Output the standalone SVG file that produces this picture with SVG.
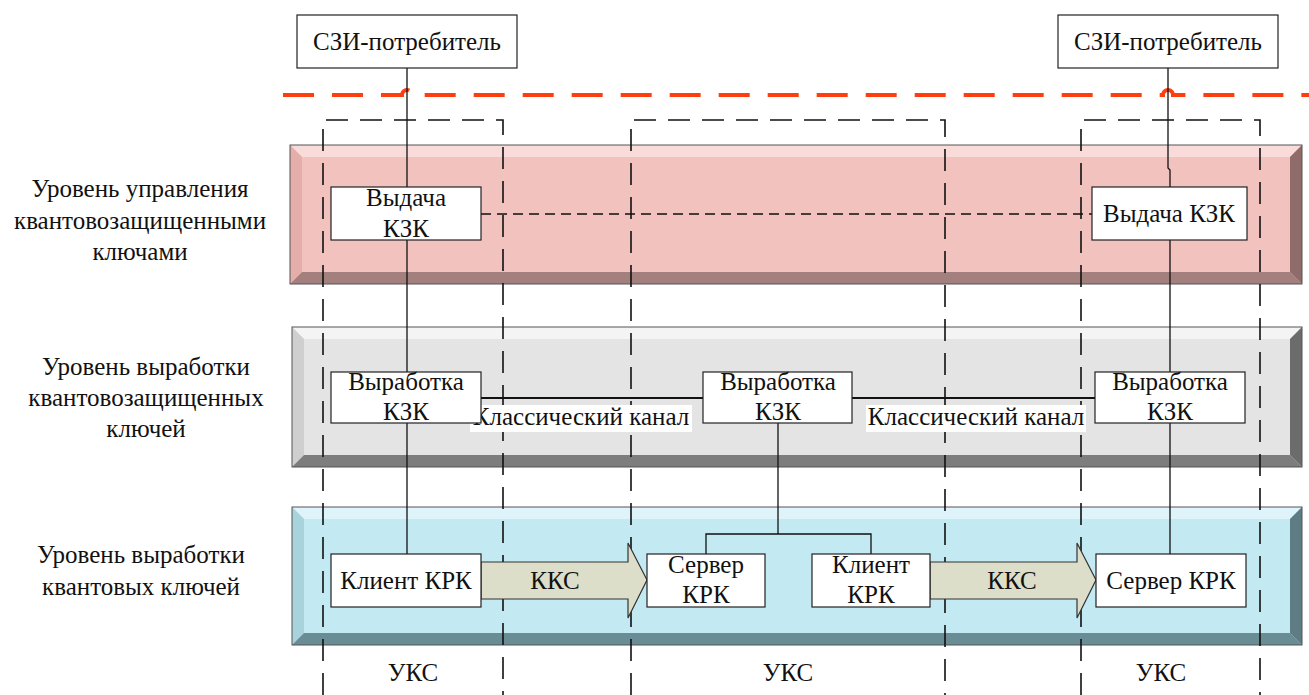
<svg xmlns="http://www.w3.org/2000/svg" width="1309" height="695" viewBox="0 0 1309 695" font-family="'Liberation Serif', 'Times New Roman', 'DejaVu Serif', serif">
<style>
text{font-family:'Liberation Serif','Times New Roman','DejaVu Serif',serif;font-size:25px;fill:#111;text-anchor:middle}
.box{fill:#fff;stroke:#222;stroke-width:1.2}
.ln{fill:none;stroke:#111;stroke-width:1.3}
.thick{fill:none;stroke:#111;stroke-width:2.2}
.uks{fill:none;stroke:#111;stroke-width:1.6;stroke-dasharray:22 12}
.arr{fill:#dcdec9;stroke:#333;stroke-width:1.2}
.edge{fill:none;stroke:#555;stroke-width:1}
</style>
<rect width="1309" height="695" fill="#fff"/>
<g id="band-kzk-mgmt">
<rect x="290" y="145" width="1012" height="139" fill="#f2c2bf"/>
<polygon points="290,145 1302,145 1290,157 302,157" fill="#f9dcda"/>
<polygon points="290,145 302,157 302,272 290,284" fill="#e4aeab"/>
<polygon points="290,284 302,272 1290,272 1302,284" fill="#a3807e"/>
<polygon points="1302,145 1302,284 1290,272 1290,157" fill="#8f6b69"/>
<rect x="290" y="145" width="1012" height="139" class="edge"/>
</g>
<g id="band-kzk-gen">
<rect x="292" y="327" width="1010" height="140" fill="#e4e4e4"/>
<polygon points="292,327 1302,327 1290,339 304,339" fill="#f4f4f4"/>
<polygon points="292,327 304,339 304,455 292,467" fill="#cfcfcf"/>
<polygon points="292,467 304,455 1290,455 1302,467" fill="#7d7d7d"/>
<polygon points="1302,327 1302,467 1290,455 1290,339" fill="#6c6c6c"/>
<rect x="292" y="327" width="1010" height="140" class="edge"/>
</g>
<g id="band-qk-gen">
<rect x="292" y="507" width="1010" height="138" fill="#c3e9f3"/>
<polygon points="292,507 1302,507 1290,519 304,519" fill="#def4fa"/>
<polygon points="292,507 304,519 304,633 292,645" fill="#a8d2dc"/>
<polygon points="292,645 304,633 1290,633 1302,645" fill="#6a8c95"/>
<polygon points="1302,507 1302,645 1290,633 1290,519" fill="#5d7c84"/>
<rect x="292" y="507" width="1010" height="138" class="edge"/>
</g>
<g id="labels-levels">
<text x="140" y="197">Уровень управления</text>
<text x="140" y="229">квантовозащищенными</text>
<text x="140" y="260">ключами</text>
<text x="146" y="375">Уровень выработки</text>
<text x="146" y="406">квантовозащищенных</text>
<text x="146" y="437">ключей</text>
<text x="141" y="563">Уровень выработки</text>
<text x="141" y="595">квантовых ключей</text>
</g>
<path id="boundary" d="M283,95 H402 a5,5 0 0 1 10,0 H1163 a5,5 0 0 1 10,0 H1309" fill="none" stroke="#ff3d0f" stroke-width="4" stroke-dasharray="31 18"/>
<g id="uks-zones">
<path class="uks" d="M323,695 V120 H503 V695"/>
<path class="uks" d="M631,695 V120 H945 V695"/>
<path class="uks" d="M1081,695 V120 H1260 V695"/>
<text x="413" y="681">УКС</text>
<text x="788" y="681">УКС</text>
<text x="1161" y="681">УКС</text>
</g>
<g id="connectors">
<path class="ln" d="M407,68 V554"/>
<path class="ln" d="M1168,68 V168 L1170,170 V554"/>
<path class="ln" d="M481,214 H1092" stroke-dasharray="10 6"/>
<path class="thick" d="M481,398 H703"/>
<path class="thick" d="M852,398 H1095"/>
<path class="ln" d="M778,423 V534"/>
<path class="ln" d="M706,554 V534 H871 V554"/>
<polygon class="arr" points="481,562 628,562 628,543 647,580 628,618 628,599 481,599"/>
<polygon class="arr" points="930,562 1077,562 1077,543 1096,580 1077,618 1077,599 930,599"/>
<text x="555" y="589">ККС</text>
<text x="1012" y="589">ККС</text>
<g id="channel-left"><rect x="470" y="405" width="222" height="27" fill="#fff"/><text x="581" y="425">Классический канал</text></g>
<g id="channel-right"><rect x="866" y="405" width="220" height="27" fill="#fff"/><text x="976" y="425">Классический канал</text></g>
</g>
<g id="szi-left"><rect class="box" x="297" y="15" width="220" height="53"/><text x="407" y="50">СЗИ-потребитель</text></g>
<g id="szi-right"><rect class="box" x="1058" y="15" width="220" height="53"/><text x="1168" y="50">СЗИ-потребитель</text></g>
<g id="issue-left"><rect class="box" x="331" y="187" width="150" height="53"/><text x="406" y="206">Выдача</text><text x="406" y="237">КЗК</text></g>
<g id="issue-right"><rect class="box" x="1092" y="187" width="155" height="53"/><text x="1169" y="222">Выдача КЗК</text></g>
<g id="gen-left"><rect class="box" x="331" y="372" width="150" height="51"/><text x="406" y="390">Выработка</text><text x="406" y="420">КЗК</text></g>
<g id="gen-mid"><rect class="box" x="703" y="372" width="149" height="51"/><text x="778" y="390">Выработка</text><text x="778" y="420">КЗК</text></g>
<g id="gen-right"><rect class="box" x="1095" y="372" width="150" height="51"/><text x="1170" y="390">Выработка</text><text x="1170" y="420">КЗК</text></g>
<g id="client-left"><rect class="box" x="331" y="554" width="150" height="53"/><text x="406" y="589">Клиент КРК</text></g>
<g id="server-mid"><rect class="box" x="647" y="554" width="118" height="53"/><text x="706" y="573">Сервер</text><text x="706" y="603">КРК</text></g>
<g id="client-mid"><rect class="box" x="812" y="554" width="118" height="53"/><text x="871" y="573">Клиент</text><text x="871" y="603">КРК</text></g>
<g id="server-right"><rect class="box" x="1096" y="554" width="150" height="53"/><text x="1171" y="589">Сервер КРК</text></g>
</svg>
